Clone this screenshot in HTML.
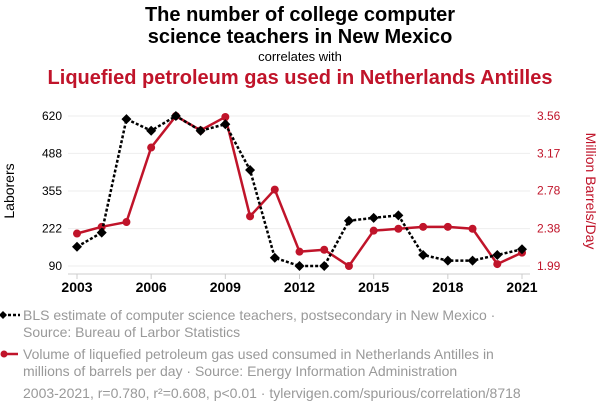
<!DOCTYPE html>
<html><head><meta charset="utf-8"><style>
body{margin:0;width:600px;height:414px;background:#fff;font-family:"Liberation Sans",sans-serif;overflow:hidden;position:relative}
.t{position:absolute;left:0;width:600px;text-align:center}
.lg{position:absolute;left:23px;font-size:14px;color:#999;line-height:17px}
</style></head><body>
<div class="t" style="top:4px;font-size:20px;font-weight:bold;line-height:22px;color:#000">The number of college computer<br>science teachers in New Mexico</div>
<div class="t" style="top:49px;font-size:13px;color:#000">correlates with</div>
<div class="t" style="top:67px;font-size:20px;font-weight:bold;color:#c0142a">Liquefied petroleum gas used in Netherlands Antilles</div>
<svg id="c" width="600" height="414" style="position:absolute;left:0;top:0"></svg>
<div class="lg" style="top:307px">BLS estimate of computer science teachers, postsecondary in New Mexico ·<br>Source: Bureau of Larbor Statistics</div>
<div class="lg" style="top:346px">Volume of liquefied petroleum gas used consumed in Netherlands Antilles in<br>millions of barrels per day · Source: Energy Information Administration</div>
<div class="lg" style="top:385px">2003-2021, r=0.780, r²=0.608, p&lt;0.01 · tylervigen.com/spurious/correlation/8718</div>
<script>
const years=[2003,2004,2005,2006,2007,2008,2009,2010,2011,2012,2013,2014,2015,2016,2017,2018,2019,2020,2021];
const teachers=[158,208,609,568,620,568,591,429,119,90,90,250,260,269,129,109,109,129,149];
const lpg=[2.33,2.40,2.45,3.23,3.56,3.41,3.55,2.51,2.79,2.14,2.16,1.99,2.36,2.38,2.40,2.40,2.38,2.01,2.13];
const leftTicks=[90,222,355,488,620];
const rightTicks=["1.99","2.38","2.78","3.17","3.56"];
const xTicks=[2003,2006,2009,2012,2015,2018,2021];
const NS="http://www.w3.org/2000/svg",svg=document.getElementById('c');
const x=v=>77+(v-2003)*(522-77)/18;
const yl=v=>266-(v-90)*150/530;
const yr=v=>266-(v-1.99)*150/1.57;
function mk(t,a,p){const e=document.createElementNS(NS,t);for(const k in a)e.setAttribute(k,a[k]);(p||svg).appendChild(e);return e;}
leftTicks.forEach((v,i)=>{
 const g=mk('line',{x1:68,x2:530,y1:yl(v),y2:yl(v),stroke:'#eee'});
 
 
 const t=mk('text',{x:62,y:yl(v)+4,'text-anchor':'end','font-size':12,fill:'#000'});t.textContent=v;
 
 
 const r=mk('text',{x:537,y:yr(+rightTicks[i])+4,'font-size':12,fill:'#c0142a'});r.textContent=rightTicks[i];
 
 
});
const ax=mk('line',{x1:68,x2:530,y1:274,y2:274,stroke:'#ccc'});


xTicks.forEach(v=>{
 const tk=mk('line',{x1:x(v),x2:x(v),y1:274,y2:279,stroke:'#ccc'});
 
 
 const t=mk('text',{x:x(v),y:292,'text-anchor':'middle','font-size':14,'font-weight':'bold',fill:'#000'});t.textContent=v;
 
 
});
const yt=mk('text',{transform:'translate(14,191) rotate(-90)','text-anchor':'middle','font-size':14,fill:'#000'});yt.textContent='Laborers';


const yt2=mk('text',{transform:'translate(586,191) rotate(90)','text-anchor':'middle','font-size':14,fill:'#c0142a'});yt2.textContent='Million Barrels/Day';


const rl=mk('polyline',{points:years.map((y,i)=>x(y)+','+yr(lpg[i])).join(' '),fill:'none',stroke:'#c0142a','stroke-width':2.5});


years.forEach((y,i)=>{const c=mk('circle',{cx:x(y),cy:yr(lpg[i]),r:4,fill:'#c0142a'});
 
 });
const bl=mk('polyline',{points:years.map((y,i)=>x(y)+','+yl(teachers[i])).join(' '),fill:'none',stroke:'#000','stroke-width':2.5,'stroke-dasharray':'3,2'});


years.forEach((y,i)=>{const X=x(y),Y=yl(teachers[i]);const d=mk('polygon',{points:`${X},${Y-5} ${X+5},${Y} ${X},${Y+5} ${X-5},${Y}`,fill:'#000'});
 
 });
const l1=mk('line',{x1:3,x2:20,y1:315,y2:315,stroke:'#000','stroke-width':2.5,'stroke-dasharray':'3,2'});


const p1=mk('polygon',{points:'3,311 7,315 3,319 -1,315',fill:'#000'});


const l2=mk('line',{x1:3,x2:18,y1:354,y2:354,stroke:'#c0142a','stroke-width':2.5});


const c2=mk('circle',{cx:4,cy:354,r:3.5,fill:'#c0142a'});


</script>
</body></html>
